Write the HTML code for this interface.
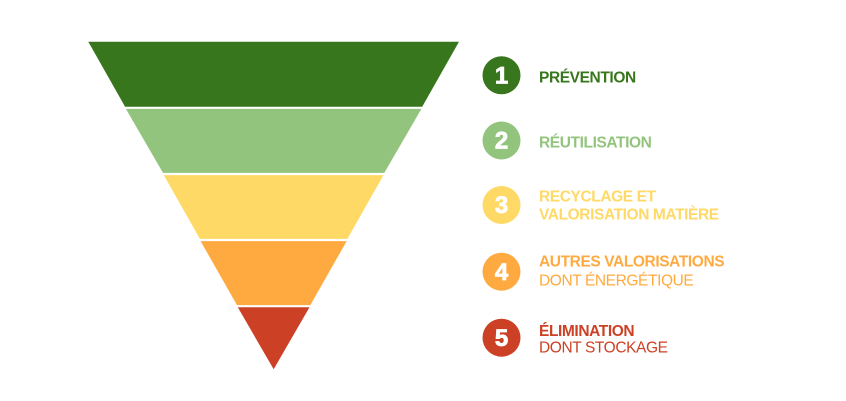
<!DOCTYPE html>
<html>
<head>
<meta charset="utf-8">
<style>
  html,body{margin:0;padding:0;background:#fff;}
  body{width:846px;height:401px;overflow:hidden;}
  svg{display:block;}
  .t{font-family:"Liberation Sans",sans-serif;font-size:15.5px;letter-spacing:-0.4px;}
  .b{font-weight:bold;}
  .n{font-family:"Liberation Sans",sans-serif;font-weight:bold;font-size:24px;fill:#fff;stroke:#fff;stroke-width:0.8px;text-anchor:middle;}
</style>
</head>
<body>
<svg width="846" height="401" viewBox="0 0 846 401" xmlns="http://www.w3.org/2000/svg">
  <!-- funnel bands -->
  <!-- line: x = 273.65 -/+ (369.3 - y)*0.5657 -->
  <polygon points="88.3,41.7 459,41.7 422.2,106.7 125.1,106.7" fill="#38761d"/>
  <polygon points="125.9,108.9 421.4,108.9 384.3,172.9 163.0,172.9" fill="#93c47d"/>
  <polygon points="163.8,175.1 383.5,175.1 347.4,238.9 199.9,238.9" fill="#ffd966"/>
  <polygon points="200.6,241.1 346.7,241.1 310.3,305.1 237.0,305.1" fill="#ffaa40"/>
  <polygon points="237.8,307.3 309.5,307.3 273.65,369.3" fill="#cc4125"/>

  <!-- legend circles -->
  <circle cx="501.5" cy="75.3" r="19" fill="#38761d"/>
  <text class="n" x="501.5" y="83.5">1</text>
  <circle cx="501.5" cy="140.5" r="19" fill="#93c47d"/>
  <text class="n" x="501.5" y="148.5">2</text>
  <circle cx="501.5" cy="205" r="19" fill="#ffd966"/>
  <text class="n" x="501.5" y="213.2">3</text>
  <circle cx="501.5" cy="271.7" r="19" fill="#ffaa40"/>
  <text class="n" x="501.5" y="279.8">4</text>
  <circle cx="501.5" cy="337.7" r="19" fill="#cc4125"/>
  <text class="n" x="501.5" y="345.8">5</text>

  <!-- legend texts -->
  <text class="t b" x="539" y="82.7" fill="#38761d">PRÉVENTION</text>
  <text class="t b" x="539" y="147.3" fill="#93c47d">RÉUTILISATION</text>
  <text class="t b" x="539" y="201.7" fill="#ffd966">RECYCLAGE ET</text>
  <text class="t b" x="539" y="219.3" fill="#ffd966">VALORISATION MATIÈRE</text>
  <text class="t b" x="539" y="266.7" fill="#ffaa40">AUTRES VALORISATIONS</text>
  <text class="t" x="539" y="285.3" fill="#ffaa40">DONT ÉNERGÉTIQUE</text>
  <text class="t b" x="539" y="336" fill="#cc4125">ÉLIMINATION</text>
  <text class="t" x="539" y="352.7" fill="#cc4125">DONT STOCKAGE</text>
</svg>
</body>
</html>
